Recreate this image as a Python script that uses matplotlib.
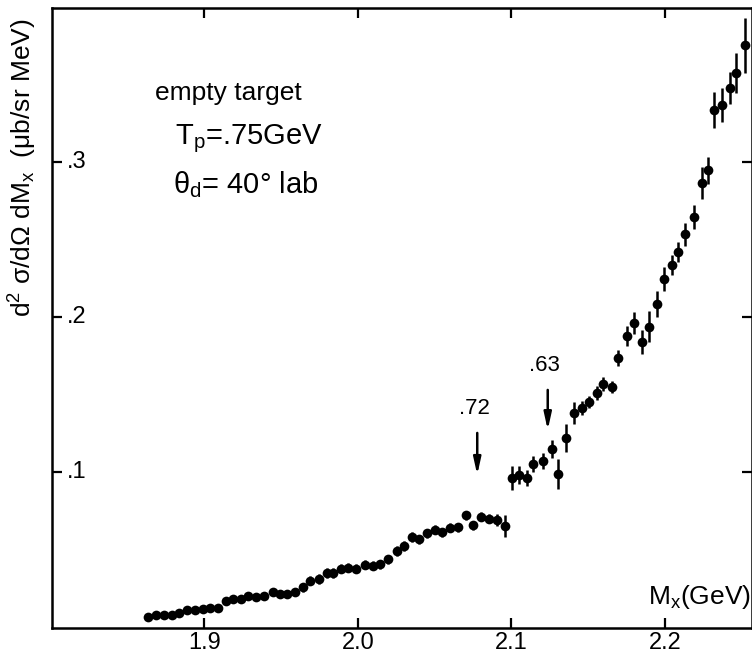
import matplotlib
matplotlib.use("Agg")
import matplotlib.pyplot as plt
import numpy as np

plt.rcParams['font.family'] = ['Liberation Sans Narrow', 'Liberation Sans', 'DejaVu Sans']
plt.rcParams['mathtext.default'] = 'regular'

# missing mass (GeV) and cross section (ub/sr MeV) for the empty-target run
mx = [1.8635, 1.8688, 1.8736, 1.8788, 1.8835, 1.8887, 1.8939, 1.8990, 1.9039, 1.9091,
      1.9138, 1.9189, 1.9237, 1.9286, 1.9337, 1.9390, 1.9449, 1.9493, 1.9538, 1.9590,
      1.9643, 1.9691, 1.9748, 1.9797, 1.9840, 1.9892, 1.9934, 1.9988, 2.0044, 2.0096,
      2.0144, 2.0198, 2.0253, 2.0301, 2.0350, 2.0396, 2.0448, 2.0499, 2.0549, 2.0600,
      2.0652, 2.0703, 2.0751, 2.0801, 2.0855, 2.0906, 2.0958,
      2.1001, 2.1050, 2.1099, 2.1142, 2.1203, 2.1262, 2.1305, 2.1353, 2.1407, 2.1457,
      2.1505, 2.1555, 2.1598, 2.1654, 2.1695, 2.1750, 2.1796, 2.1849, 2.1897, 2.1949,
      2.1993, 2.2044, 2.2086, 2.2133, 2.2186, 2.2238, 2.2277, 2.2320, 2.2369, 2.2423,
      2.2465, 2.2518]
xsec = [0.0070, 0.0081, 0.0081, 0.0078, 0.0096, 0.0110, 0.0111, 0.0120, 0.0127, 0.0125,
        0.0171, 0.0184, 0.0186, 0.0205, 0.0195, 0.0205, 0.0227, 0.0213, 0.0218, 0.0231,
        0.0259, 0.0301, 0.0312, 0.0352, 0.0352, 0.0380, 0.0385, 0.0380, 0.0405, 0.0399,
        0.0408, 0.0440, 0.0493, 0.0525, 0.0583, 0.0569, 0.0607, 0.0630, 0.0614, 0.0643,
        0.0646, 0.0722, 0.0657, 0.0714, 0.0701, 0.0691, 0.0654,
        0.0961, 0.0983, 0.0965, 0.1055, 0.1071, 0.1150, 0.0991, 0.1219, 0.1380, 0.1412,
        0.1453, 0.1511, 0.1571, 0.1547, 0.1734, 0.1879, 0.1959, 0.1841, 0.1938, 0.2086,
        0.2245, 0.2335, 0.2420, 0.2531, 0.2646, 0.2863, 0.2943, 0.3333, 0.3365, 0.3477,
        0.3569, 0.3748]
err = [0.002, 0.002, 0.002, 0.002, 0.002, 0.002, 0.002, 0.002, 0.002, 0.002,
       0.002, 0.002, 0.002, 0.002, 0.002, 0.002, 0.002, 0.002, 0.002, 0.002,
       0.003, 0.003, 0.003, 0.003, 0.003, 0.003, 0.003, 0.003, 0.003, 0.003,
       0.003, 0.003, 0.003, 0.003, 0.003, 0.003, 0.003, 0.003, 0.003, 0.003,
       0.003, 0.003, 0.003, 0.003, 0.003, 0.004, 0.0071,
       0.0077, 0.0058, 0.0052, 0.0052, 0.0052, 0.0058, 0.0097, 0.0090, 0.0071, 0.0045,
       0.0039, 0.0045, 0.0045, 0.0039, 0.0052, 0.0064, 0.0071, 0.0077, 0.0097, 0.0084,
       0.0077, 0.0064, 0.0064, 0.0077, 0.0077, 0.0103, 0.0090, 0.0116, 0.0109, 0.0103,
       0.0129, 0.0180]

xticks = [1.9, 2.0, 2.1, 2.2]
xticklabels = ['1.9', '2.0', '2.1', '2.2']
yticks = [0.1, 0.2, 0.3]
yticklabels = ['.1', '.2', '.3']

# marked positions (arrows) with their labels
arrow_x = [2.0777, 2.1236]
arrow_top = [0.1253, 0.1530]
arrow_tip = [0.0983, 0.1272]
arrow_labels = ['.72', '.63']

fig = plt.figure(figsize=(7.52, 6.56), dpi=100)
ax = fig.add_axes([0.0691, 0.0434, 0.9309, 0.9441])

ax.errorbar(mx, xsec, yerr=err, fmt='o', color='black', ms=7,
            elinewidth=1.8, capsize=0, mew=0)

ax.set_xlim(1.8008, 2.2566)
ax.set_ylim(0, 0.3988)

ax.set_xticks(xticks)
ax.set_xticklabels(xticklabels, fontsize=17)
ax.set_yticks(yticks)
ax.set_yticklabels([])
ax.tick_params(axis='both', direction='in', length=7, width=1.6,
               top=True, right=True)
ax.tick_params(axis='x', pad=3)
for sp in ax.spines.values():
    sp.set_linewidth(1.8)

# y tick labels sit inside the frame
for v, lab in zip(yticks, yticklabels):
    ax.text(0.021, v, lab, transform=ax.get_yaxis_transform(),
            ha='left', va='center', fontsize=17)

fig.text(0.031, 0.745, r'd$^2$ $\sigma$/d$\Omega$ dM$_x$  ($\mu$b/sr MeV)',
         rotation=90, ha='center', va='center', fontsize=19)

ax.text(2.1889, 0.0197, r'M$_x$(GeV)', ha='left', va='center', fontsize=19)

big = ['Liberation Sans', 'DejaVu Sans']
ax.text(1.8679, 0.3442, 'empty target', ha='left', va='center',
        family=big, fontsize=19)
ax.text(1.8809, 0.3145, r'T$_p$=.75GeV', ha='left', va='center',
        family=big, fontsize=21)
ax.text(1.8796, 0.2855, r'$\theta_d$= 40$\degree$ lab', ha='left', va='center',
        family=big, fontsize=21)

for x, y0, y1, lab in zip(arrow_x, arrow_top, arrow_tip, arrow_labels):
    ax.annotate('', xy=(x, y1), xytext=(x, y0),
                arrowprops=dict(arrowstyle='-|>,head_width=0.22,head_length=1.0',
                                lw=1.8, color='black', shrinkA=0, shrinkB=0))
    ax.text(x - 0.002, y0 + 0.009, lab, ha='center', va='bottom', fontsize=16)

fig.savefig('out.png', dpi=100)
